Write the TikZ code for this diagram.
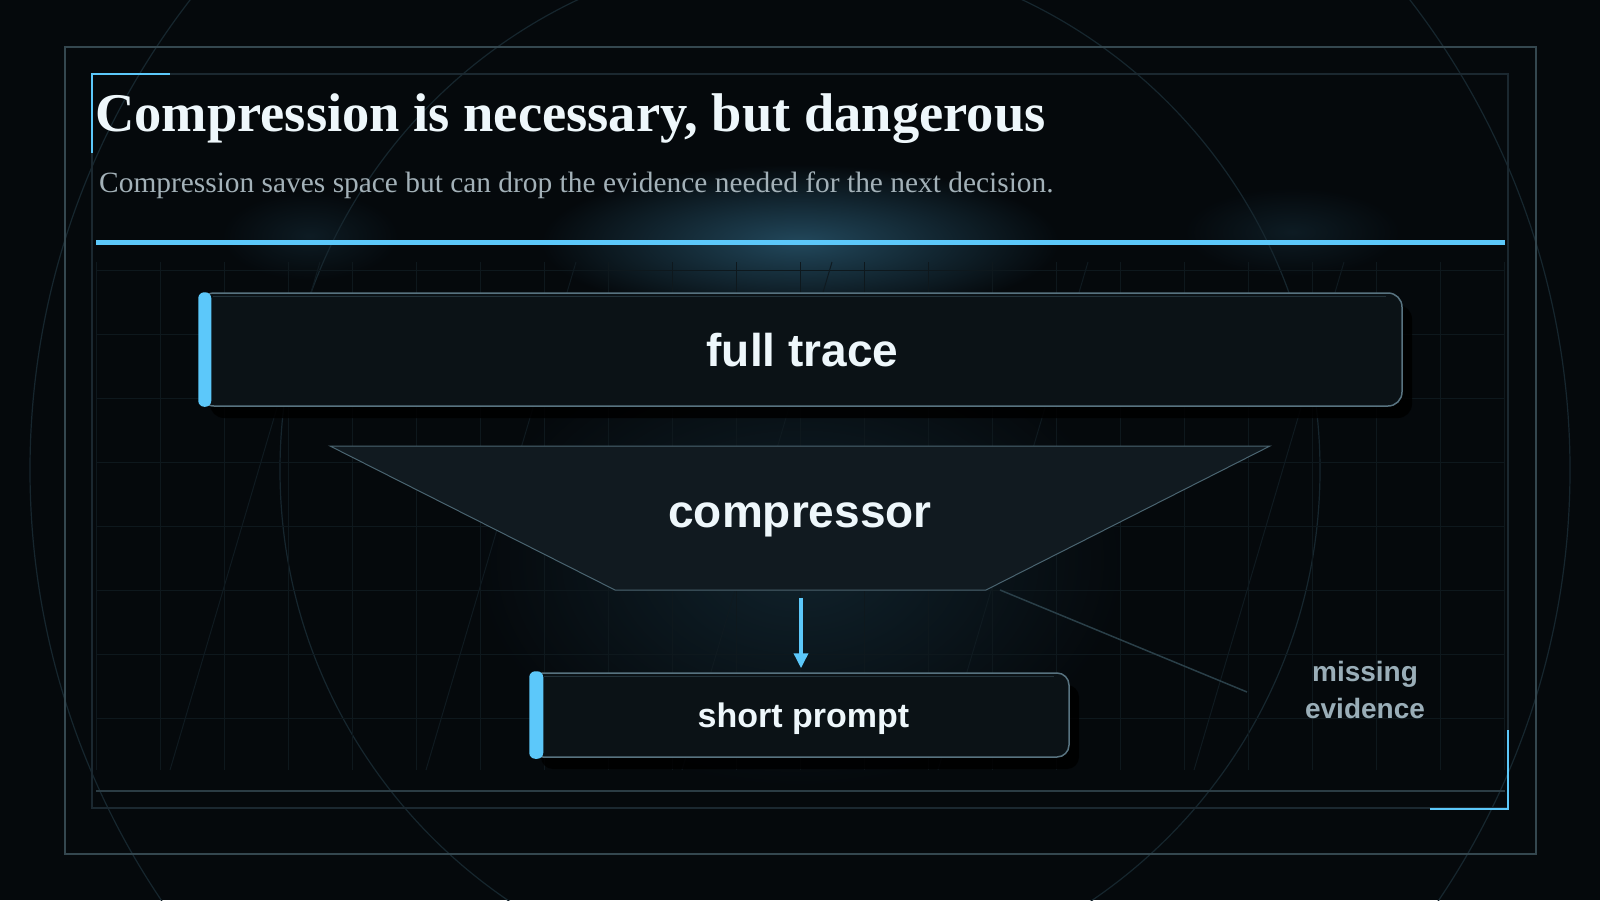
\documentclass[tikz,border=0pt]{standalone}
\usepackage{fontspec}
\setmainfont{Liberation Serif}
\setsansfont{Liberation Sans}
\usetikzlibrary{arrows.meta,shadows,fadings}

\definecolor{bgdark}{HTML}{05090C}
\definecolor{gridcol}{HTML}{0E181D}
\definecolor{slantcol}{HTML}{0F1A20}
\definecolor{ringcol}{HTML}{16262E}
\definecolor{framecol}{HTML}{34474F}
\definecolor{innercol}{HTML}{1B2830}
\definecolor{footcol}{HTML}{2B3C44}
\definecolor{accent}{HTML}{5CC8FA}
\definecolor{boxfill}{HTML}{0B1216}
\definecolor{boxedge}{HTML}{587380}
\definecolor{sheen}{HTML}{22323A}
\definecolor{funnelfill}{HTML}{111A20}
\definecolor{funneledge}{HTML}{4A6470}
\definecolor{leakcol}{HTML}{2A3F48}
\definecolor{notecol}{HTML}{9AAEB8}
\definecolor{titlecol}{HTML}{EEF7FB}
\definecolor{subcol}{HTML}{A3B1B8}
\definecolor{glowblue}{HTML}{22485C}

\tikzfading[name=glowfade, inner color=transparent!0, outer color=transparent!100]

\begin{document}
\begin{tikzpicture}[x=1pt,y=-1pt,
  stagebox/.style={rectangle, draw=boxedge, line width=1.5pt, fill=boxfill,
    rounded corners=14pt, inner sep=0pt, text=titlecol, text depth=0pt,
    drop shadow={shadow xshift=10pt, shadow yshift=-12pt, fill=black, opacity=.85}},
  accentbar/.style={fill=accent, rounded corners=6pt},
  flow/.style={draw=accent, line width=3.5pt, -{Triangle[length=15pt,width=14pt]}},
  gridline/.style={draw=gridcol, line width=1pt}]

\useasboundingbox (0,0) rectangle (1600,900);
\fill[bgdark] (0,0) rectangle (1600,900);

	% soft glows
	\fill[glowblue, opacity=.4, path fading=glowfade] (800,560) ellipse [x radius=330, y radius=230];
	\fill[glowblue, path fading=glowfade] (800,242) ellipse [x radius=260, y radius=78];
	\fill[glowblue, opacity=.3, path fading=glowfade] (310,236) ellipse [x radius=90, y radius=45];
	\fill[glowblue, opacity=.3, path fading=glowfade] (1292,232) ellipse [x radius=110, y radius=45];

	\draw[ringcol, line width=1.2pt] (800,470) circle [radius=770];
	\draw[ringcol, line width=1.2pt] (800,470) circle [radius=520];

	\foreach \gx in {0,...,22}
		\draw[gridline] (96+64*\gx,262) -- (96+64*\gx,770);
	\foreach \gy in {0,...,7}
		\draw[gridline] (96,270+64*\gy) -- (1505,270+64*\gy);
	\foreach \k in {0,...,4}
		\draw[slantcol, line width=1pt] (320+256*\k,262) -- (170+256*\k,770);

	\draw[framecol, line width=1.5pt] (65,47) rectangle (1536,854);
	\draw[innercol, line width=1.2pt] (92,74) rectangle (1508,808);
	\draw[footcol, line width=1.5pt] (96,791) -- (1505,791);
	\draw[accent, line width=2.5pt] (92,153) -- (92,74) -- (170,74);
	\draw[accent, line width=2.5pt] (1508,730) -- (1508,809) -- (1430,809);

	\node[anchor=base west, inner sep=0pt, text=titlecol, font=\bfseries\fontsize{54.5}{60}\selectfont] (title) at (95,131) {Compression is necessary, but dangerous};
	\node[anchor=base west, inner sep=0pt, text=subcol, font=\fontsize{29.4}{34}\selectfont] (sub) at (99,192) {Compression saves space but can drop the evidence needed for the next decision.};

	\draw[accent, line width=5pt] (96,242.5) -- (1505,242.5);

	% full trace
	\node[stagebox, minimum width=1202, minimum height=113, font=\sffamily\bfseries\fontsize{46}{50}\selectfont] (trace) at (801,349.5) {\hspace*{3pt}full trace};
	\draw[sheen, line width=1.5pt] ([xshift=14pt,yshift=-4pt]trace.north west) -- ([xshift=-17pt,yshift=-4pt]trace.north east);
	\fill[accentbar] ([xshift=-1pt]trace.north west) rectangle ([xshift=12pt]trace.south west);

	% compressor
	\draw[draw=funneledge, fill=funnelfill, line width=1pt] (330,446) -- (1270,446) -- (986,590) -- (615,590) -- cycle;
	\node[anchor=base, inner sep=0pt, text=titlecol, font=\sffamily\bfseries\fontsize{46}{50}\selectfont] (comp) at (800,527) {compressor};
	\coordinate (compOut) at (801,590);

	% short prompt
	\node[stagebox, rounded corners=12pt, minimum width=538, minimum height=84, font=\sffamily\bfseries\fontsize{34}{40}\selectfont] (prompt) at (800,715) {\hspace*{7pt}short prompt};
	\draw[sheen, line width=1.5pt] ([xshift=14pt,yshift=-4pt]prompt.north west) -- ([xshift=-16pt,yshift=-4pt]prompt.north east);
	\fill[accentbar] ([xshift=-1pt,yshift=1pt]prompt.north west) rectangle ([xshift=13pt,yshift=-1pt]prompt.south west);

	\draw[flow, shorten <=8pt, shorten >=4pt] (compOut) -- (compOut |- prompt.north);

	% what gets lost
	\coordinate (leakA) at (1000,590);
	\coordinate (leakB) at (1247,692);
	\draw[leakcol, line width=1.5pt] (leakA) -- (leakB);
	\node[align=center, inner sep=0pt, text=notecol, font=\sffamily\bfseries\fontsize{28}{37}\selectfont] (miss) at (1365,690) {missing\\evidence};

\end{tikzpicture}
\end{document}
